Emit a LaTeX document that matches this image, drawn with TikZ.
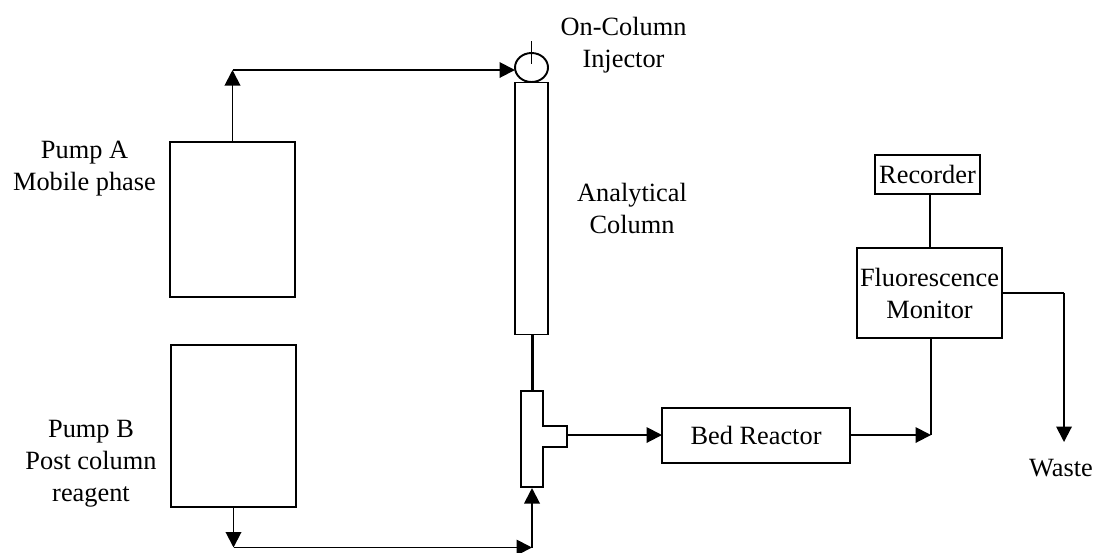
\documentclass[tikz,border=0pt]{standalone}
\usepackage{fontspec}
\setmainfont{Liberation Serif}
\usetikzlibrary{arrows.meta,shapes.geometric}
\tikzset{
  every node/.style={font=\fontsize{15}{18.2}\selectfont,align=center,inner sep=0pt,outer sep=0pt},
  wire/.style={line width=1.1pt},
  flow/.style={wire,-{Triangle[length=0.31cm,width=0.31cm]}},
  unit/.style={draw,line width=1.1pt,minimum width=#1},
}
\begin{document}
\begin{tikzpicture}[x=0.02cm,y=-0.02cm]
  \useasboundingbox (0,0) rectangle (1097,552);

  % pumps
  \node[unit=125*0.02cm,minimum height=3.1cm] (pumpA) at (232.5,219.5) {};
  \node[unit=125*0.02cm,minimum height=3.24cm] (pumpB) at (233.5,426) {};
  \node (pumpAtext) at (84.5,168.5) {Pump A\\Mobile phase};
  \node (pumpBtext) at (91,464) {Pump B\\Post column\\reagent};

  % column and injector
  \node[draw,ellipse,line width=1.1pt,minimum width=0.66cm,minimum height=0.58cm] (injector) at (531.5,67.5) {};
  \node[unit=33*0.02cm,minimum height=5.04cm] (column) at (531.5,208.5) {};
  \coordinate (needle) at (531.5,41);
  \coordinate (needleEnd) at (531.5,64);
  \node (injectortext) at (623.5,45) {On-Column\\Injector};
  \node (columntext) at (632,208.5) {Analytical\\Column};

  % mixing tee
  \draw[wire] (521,391) -- (543,391) -- (543,426) -- (567,426) -- (567,447)
    -- (543,447) -- (543,487) -- (521,487) -- cycle;
  \coordinate (teeTop) at (532,391);
  \coordinate (teeBottom) at (532,488);
  \coordinate (teeRight) at (567,435);

  % detector side
  \node[unit=188*0.02cm,minimum height=1.1cm] (reactor) at (756,435.5) {Bed Reactor};
  \node[unit=145*0.02cm,minimum height=1.8cm] (monitor) at (929.5,293) {Fluorescence\\Monitor};
  \node[unit=105*0.02cm,minimum height=0.78cm] (recorder) at (927.5,174.5) {Recorder};
  \node (waste) at (1061,468.5) {Waste};

  \coordinate (cornerA) at (232.5,70);
  \coordinate (cornerB) at (233.5,547.5);
  \coordinate (joinB) at (532,547.5);
  \coordinate (joinM) at (931,435);
  \coordinate (cornerW) at (1064,293);
  \coordinate (wasteEnd) at (1064,442);

  \draw[flow] (pumpA.north) -- (cornerA);
  \draw[flow] (cornerA) -- (cornerA -| injector.west);
  \draw[wire] (needle) -- (needleEnd);
  \draw[line width=1.7pt] (column.south -| teeTop) -- (teeTop);
  \draw[flow] (pumpB.south) -- (cornerB);
  \draw[flow] (cornerB) -- (joinB);
  \draw[flow] (joinB) -- (teeBottom);
  \draw[flow] (teeRight) -- (teeRight -| reactor.west);
  \draw[flow] (reactor.east |- joinM) -- (joinM);
  \draw[wire] (monitor.south -| joinM) -- (joinM);
  \draw[wire] (recorder.south -| 930,0) -- (monitor.north -| 930,0);
  \draw[wire] (monitor.east) -- (cornerW);
  \draw[flow] (cornerW) -- (wasteEnd);
\end{tikzpicture}
\end{document}
